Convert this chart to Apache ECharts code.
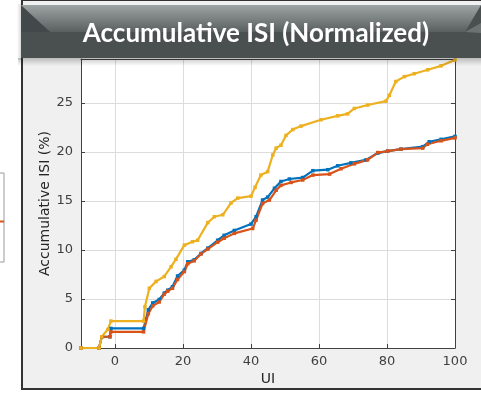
<!DOCTYPE html>
<html><head><meta charset="utf-8">
<style>html,body{margin:0;padding:0;background:#fff;}#c{width:481px;height:394px;}</style>
<script src="https://cdn.jsdelivr.net/npm/echarts@6/dist/echarts.min.js"></script>
</head><body><div id="c"></div>
<script>
var titleText = 'Accumulative ISI (Normalized)';
var xTicks = [0, 20, 40, 60, 80, 100];
var yTicks = [0, 5, 10, 15, 20, 25];

var blueX = [-10, -4.7, -3.9, -1.5, -1.2, 8.4, 9.8, 11.1, 13.0, 14.5, 15.5, 16.9, 18.4, 20.4, 21.4, 23.3, 25.3, 27.3, 30.2, 32.1, 35.1, 40.0, 41.5, 43.4, 44.9, 46.9, 48.8, 51.3, 55.2, 58.2, 62.6, 65.5, 69.4, 73.8, 77.3, 80.2, 84.1, 90.5, 92.4, 95.9, 100];
var blueY = [0, 0, 1.15, 1.15, 2.0, 2.0, 3.9, 4.6, 4.95, 5.6, 5.9, 6.25, 7.35, 7.95, 8.8, 9.0, 9.65, 10.2, 11.0, 11.5, 12.0, 12.65, 13.4, 15.1, 15.4, 16.3, 17.0, 17.25, 17.4, 18.1, 18.2, 18.6, 18.9, 19.2, 19.9, 20.1, 20.3, 20.55, 21.05, 21.3, 21.6];

var orangeX = [-10, -4.7, -3.9, -1.5, -1.2, 8.4, 9.8, 11.1, 13.0, 14.5, 15.5, 16.9, 18.4, 20.4, 21.4, 23.3, 25.3, 27.3, 30.2, 32.1, 35.1, 40.5, 41.5, 43.4, 45.4, 47.4, 48.8, 51.8, 55.2, 58.2, 63.1, 66.5, 70.4, 74.3, 77.3, 80.2, 84.1, 90.5, 91.9, 95.9, 100];
var orangeY = [0, 0, 1.15, 1.15, 1.65, 1.65, 3.5, 4.3, 4.7, 5.5, 5.8, 6.1, 7.0, 7.8, 8.6, 8.9, 9.6, 10.1, 10.8, 11.2, 11.7, 12.2, 13.05, 14.75, 15.1, 16.1, 16.6, 16.9, 17.15, 17.65, 17.75, 18.3, 18.8, 19.2, 19.95, 20.1, 20.3, 20.4, 20.8, 21.15, 21.45];

var yellowX = [-10, -4.7, -3.9, -2.1, -1.2, 8.4, 8.8, 10.1, 12.1, 14.5, 16.5, 17.9, 20.4, 22.8, 24.3, 27.3, 29.2, 31.7, 34.1, 36.1, 40.0, 41.2, 42.9, 44.9, 46.4, 47.4, 48.8, 50.3, 52.3, 54.7, 60.6, 65.5, 68.4, 70.4, 74.3, 79.7, 80.7, 82.6, 85.1, 88, 92, 95.9, 100];
var yellowY = [0, 0, 1.15, 1.9, 2.75, 2.75, 4.2, 6.1, 6.8, 7.3, 8.3, 9.05, 10.5, 10.85, 11.0, 12.8, 13.4, 13.6, 14.8, 15.3, 15.5, 16.4, 17.65, 18.0, 19.7, 20.4, 20.7, 21.7, 22.3, 22.65, 23.3, 23.7, 23.9, 24.45, 24.8, 25.2, 25.8, 27.2, 27.7, 28.0, 28.4, 28.8, 29.4];

function pairs(xs, ys) { return xs.map(function (x, i) { return [x, ys[i]]; }); }

function mkSeries(name, xs, ys, color) {
  return {
    name: name, type: 'line', data: pairs(xs, ys),
    symbol: 'rect', symbolSize: 3.5, showSymbol: true,
    lineStyle: { color: color, width: 2.2 }, itemStyle: { color: color },
    animation: false, silent: true
  };
}

var chart = echarts.init(document.getElementById('c'), null, { renderer: 'canvas' });
var axisColor = '#404040';
chart.setOption({
  animation: false,
  grid: { left: 81, right: 26, top: 59, bottom: 46, show: true, backgroundColor: '#ffffff', borderWidth: 0, outerBoundsMode: 'none' },
  xAxis: [{
    type: 'value', min: -10, max: 100,
    name: 'UI', nameLocation: 'middle', nameGap: 24, nameMoveOverlap: false,
    nameTextStyle: { color: '#262626', fontSize: 14, fontFamily: 'DejaVu Sans' },
    axisLine: { show: true, onZero: false, lineStyle: { color: axisColor, width: 1 } },
    axisTick: { show: true, inside: true, length: 4, customValues: xTicks, lineStyle: { color: axisColor } },
    axisLabel: { customValues: xTicks, color: '#404040', fontSize: 13, fontFamily: 'DejaVu Sans', margin: 7 },
    splitLine: { show: true, lineStyle: { color: '#dcdcdc', width: 1 } }
  }, {
    type: 'value', min: -10, max: 100, position: 'top',
    axisLine: { show: true, onZero: false, lineStyle: { color: axisColor } },
    axisTick: { show: false }, axisLabel: { show: false }, splitLine: { show: false }
  }],
  yAxis: [{
    type: 'value', min: 0, max: 29.5,
    name: 'Accumulative ISI (%)', nameLocation: 'middle', nameGap: 29, nameMoveOverlap: false,
    nameTextStyle: { color: '#262626', fontSize: 14, fontFamily: 'DejaVu Sans' },
    axisLine: { show: true, onZero: false, lineStyle: { color: axisColor, width: 1 } },
    axisTick: { show: true, inside: true, length: 4, customValues: yTicks, lineStyle: { color: axisColor } },
    axisLabel: { customValues: yTicks, color: '#404040', fontSize: 13, fontFamily: 'DejaVu Sans', margin: 8 },
    splitLine: { show: true, lineStyle: { color: '#dcdcdc', width: 1 } }
  }, {
    type: 'value', min: 0, max: 29.5, position: 'right',
    axisLine: { show: true, onZero: false, lineStyle: { color: axisColor, width: 1 } },
    axisTick: { show: true, inside: true, length: 4, customValues: yTicks, lineStyle: { color: axisColor } },
    axisLabel: { show: false }, splitLine: { show: false }
  }],
  series: [
    mkSeries('A', blueX, blueY, '#0072BD'),
    mkSeries('B', orangeX, orangeY, '#D95319'),
    mkSeries('C', yellowX, yellowY, '#EDB120')
  ],
  graphic: [
    { type: 'rect', z: -10, shape: { x: 22, y: 0, width: 470, height: 389 }, style: { fill: '#f0f0f0', stroke: '#333333', lineWidth: 2 } },
    { type: 'rect', z: -9, shape: { x: -5, y: 173, width: 9, height: 89 }, style: { fill: '#ffffff', stroke: '#9a9a9a', lineWidth: 1 } },
    { type: 'line', z: -8, shape: { x1: 0, y1: 221.5, x2: 4, y2: 221.5 }, style: { stroke: '#D95319', lineWidth: 2 } },
    { type: 'rect', z: 99, shape: { x: 18, y: 58, width: 470, height: 8 }, style: { fill: { type: 'linear', x: 0, y: 0, x2: 0, y2: 1, colorStops: [{ offset: 0, color: 'rgba(0,0,0,0.22)' }, { offset: 1, color: 'rgba(0,0,0,0)' }] } } },
    { type: 'rect', z: 99, shape: { x: 17, y: 4, width: 4, height: 56 }, style: { fill: { type: 'linear', x: 0, y: 0, x2: 1, y2: 0, colorStops: [{ offset: 0, color: 'rgba(0,0,0,0)' }, { offset: 1, color: 'rgba(0,0,0,0.15)' }] } } },
    { type: 'rect', z: 100, shape: { x: 21, y: 5, width: 470, height: 53 }, style: { fill: '#4a4f50' } },
    { type: 'polygon', z: 101, shape: { points: [[21, 5], [481, 5], [465, 32], [50, 32]] }, style: { fill: { type: 'linear', x: 0, y: 0, x2: 0, y2: 1, colorStops: [{ offset: 0, color: '#9ea3a4' }, { offset: 1, color: '#5a5f60' }] } } },
    { type: 'polygon', z: 101, shape: { points: [[21, 6], [50, 32], [21, 32]] }, style: { fill: '#43484a' } },
    { type: 'polygon', z: 101, shape: { points: [[465, 32], [481, 23], [481, 33]] }, style: { fill: '#6c7172' } },
    { type: 'text', z: 102, style: { text: titleText, x: 256, y: 34, textAlign: 'center', textVerticalAlign: 'middle', fill: '#ffffff', font: 'bold 26px Lato', shadowBlur: 2, shadowColor: 'rgba(0,0,0,0.5)', shadowOffsetY: 1 } }
  ]
});
</script></body></html>
